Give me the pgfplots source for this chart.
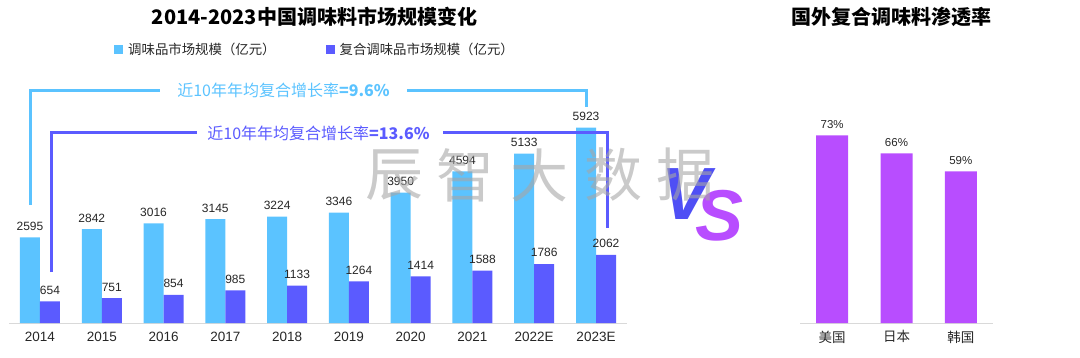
\documentclass[border=0pt]{standalone}
\usepackage{pgfplots}
\pgfplotsset{compat=1.18}
\usepackage{fontspec}
\setmainfont{Liberation Sans}
\newfontfamily\cjk{Noto Sans CJK SC}
\definecolor{lb}{HTML}{5BC3FF}
\definecolor{db}{HTML}{5B5BFF}
\definecolor{pp}{HTML}{B84DFF}
\definecolor{vb}{HTML}{4F4FF5}
\definecolor{txt}{HTML}{262626}
\begin{document}
\begin{tikzpicture}[x=1pt,y=1pt]
\useasboundingbox (0,0) rectangle (1080,357);
% ---------------- left chart ----------------
\begin{axis}[
  at={(9.1pt,34pt)}, anchor=south west,
  scale only axis, width=617.8pt, height=200pt,
  xmin=-0.5, xmax=9.5, ymin=0, ymax=6060,
  ybar=0pt, bar width=20pt,
  xtick={0,...,9},
  xticklabels={2014,2015,2016,2017,2018,2019,2020,2021,2022E,2023E},
  axis x line=bottom, axis y line=none,
  x axis line style={-, draw=black!15, line width=1pt},
  xtick style={draw=none},
  xticklabel style={font=\fontsize{13.5}{13.5}\selectfont, text=txt, yshift=-3.5pt},
  /pgf/number format/1000 sep={},
  /pgf/number format/assume math mode=true,
  nodes near coords,
  nodes near coords style={font=\fontsize{12}{12}\selectfont, text=txt, anchor=south, yshift=3.5pt},
  legend columns=2,
  legend image code/.code={\fill[#1] (0pt,-4.5pt) rectangle (9pt,4.5pt);},
  legend style={at={(axis description cs:0.1698,1.365)}, anchor=west, draw=none, fill=none,
    inner sep=0pt, nodes={inner sep=0pt, anchor=west, font=\cjk\fontsize{13.4}{13.4}\selectfont, text=txt},
    /tikz/every odd column/.append style={column sep=5pt},
    /tikz/every even column/.append style={column sep=50pt}},
]
\addplot[fill=lb, draw=none] coordinates {(0,2595) (1,2842) (2,3016) (3,3145) (4,3224) (5,3346) (6,3950) (7,4594) (8,5133) (9,5923)};
\addplot[fill=db, draw=none] coordinates {(0,654) (1,751) (2,854) (3,985) (4,1133) (5,1264) (6,1414) (7,1588) (8,1786) (9,2062)};
\legend{调味品市场规模（亿元）, 复合调味品市场规模（亿元）}
\end{axis}
% ---------------- right chart ----------------
\begin{axis}[
  at={(800pt,34pt)}, anchor=south west,
  scale only axis, width=193pt, height=200pt,
  xmin=-0.5, xmax=2.5, ymin=0, ymax=77.8,
  ybar, bar width=32pt,
  xtick={0,1,2}, xticklabels={美国,日本,韩国},
  axis x line=bottom, axis y line=none,
  x axis line style={-, draw=black!15, line width=1pt},
  xtick style={draw=none},
  xticklabel style={font=\cjk\fontsize{13.5}{13.5}\selectfont, text=txt, yshift=-2pt},
  /pgf/number format/assume math mode=true,
  nodes near coords={\pgfmathprintnumber{\pgfplotspointmeta}\%},
  nodes near coords style={font=\fontsize{11.5}{11.5}\selectfont, text=txt, anchor=south, yshift=3pt},
]
\addplot[fill=pp, draw=none] coordinates {(0,73) (1,66) (2,59)};
\end{axis}
% ---------------- titles ----------------
\node[font=\cjk\bfseries\fontsize{20}{20}\selectfont] at (314.5,340) {2014-2023中国调味料市场规模变化};
\node[font=\cjk\bfseries\fontsize{20}{20}\selectfont] at (891.5,340) {国外复合调味料渗透率};
% ---------------- CAGR brackets ----------------
\draw[lb, line width=3pt] (30,152) -- (30,266.5) -- (160,266.5);
\draw[lb, line width=3pt] (407,266.5) -- (586,266.5) -- (586,250);
\node[text=lb, font=\cjk\fontsize{16}{16}\selectfont] at (283.5,267) {近10年年均复合增长率{\bfseries=9.6\%}};
\draw[db, line width=3pt] (51,85) -- (51,225) -- (197,225);
\draw[db, line width=3pt] (443,225) -- (607,225) -- (607,129);
\node[text=db, font=\cjk\fontsize{16}{16}\selectfont] at (318.5,224) {近10年年均复合增长率{\bfseries=13.6\%}};
% ---------------- VS ----------------
\node[text=vb, font=\bfseries\itshape\fontsize{74}{74}\selectfont] at (686,163) {V};
\node[text=pp, font=\bfseries\itshape\fontsize{72}{72}\selectfont] at (720,141) {S};
% ---------------- watermark ----------------
\begin{scope}[every node/.style={text=black!35, opacity=0.6, font=\cjk\fontsize{58}{58}\selectfont}]
\node at (394,182) {辰};
\node at (465,182) {智};
\node at (539,182) {大};
\node at (613,182) {数};
\node at (685,182) {据};
\end{scope}
\end{tikzpicture}
\end{document}
